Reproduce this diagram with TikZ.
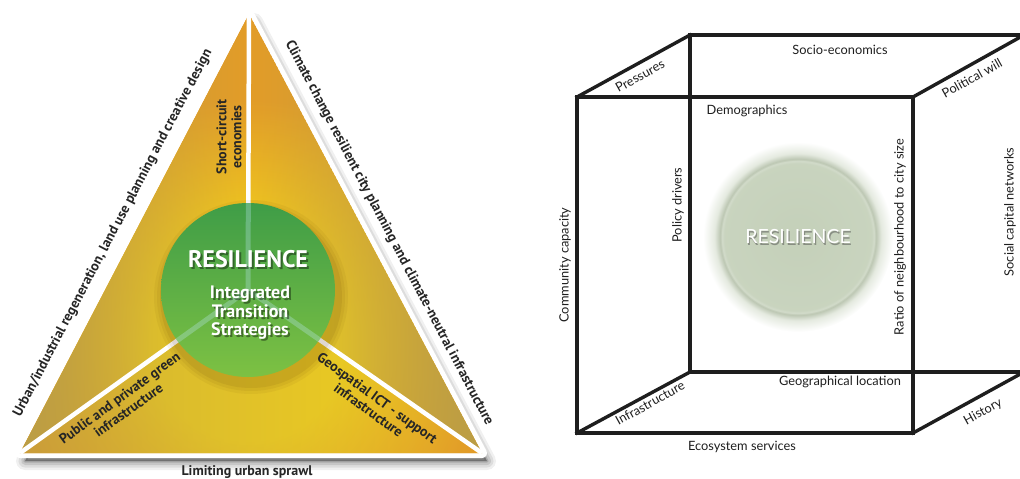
\documentclass[tikz,border=0pt]{standalone}
\usepackage{fontspec}
\setmainfont{PT Sans}
\newfontfamily\gillfont{Lato}
\usetikzlibrary{calc,fadings}

\definecolor{triyellow}{HTML}{F3D21C}
\definecolor{triorange}{HTML}{E39C28}
\definecolor{triolive}{HTML}{BA9E46}
\definecolor{orbtop}{HTML}{3F9D47}
\definecolor{orbbottom}{HTML}{7DC143}
\definecolor{sage}{HTML}{C4D0B9}
\definecolor{cubeink}{HTML}{1E1E1E}

\pgfdeclareradialshading{triglow}{\pgfpoint{0bp}{0bp}}{color(0bp)=(triyellow); color(7bp)=(triyellow); color(18bp)=(triorange); color(25bp)=(triorange); color(50bp)=(triorange)}
\pgfdeclareradialshading{orbglow}{\pgfpoint{0bp}{0bp}}{color(0bp)=(sage); color(19.4bp)=(sage!92!white); color(20bp)=(sage!75!white); color(20.5bp)=(sage!88!gray); color(22bp)=(sage!45!white); color(25bp)=(white); color(50bp)=(white)}

\tikzset{
  sidelabel/.style={font=\bfseries\fontsize{14}{15}\selectfont, text=black!85, align=center, inner sep=0pt},
  orbtitle/.style={font=\bfseries\fontsize{24}{26}\selectfont, inner sep=0pt},
  orbtext/.style={font=\bfseries\fontsize{18}{18.5}\selectfont, align=center, inner sep=0pt},
  divider/.style={white, line width=4.5pt},
  cubeedge/.style={cubeink, line width=3.4pt, line cap=rect},
  cubelabel/.style={font=\gillfont\fontsize{12.8}{14}\selectfont, text=cubeink, inner sep=0pt},
}

\begin{document}
\begin{tikzpicture}[x=1pt, y=-1pt]
\useasboundingbox (0,0) rectangle (1020,479);

% left panel: triangle
\coordinate (A) at (249,14);
\coordinate (B) at (20,453);
\coordinate (C) at (482,453);
\coordinate (O) at (248,290);

\foreach \w/\o in {18/0.06, 13/0.08, 8/0.1, 3/0.14}
  \filldraw[black, opacity=\o, line width=\w pt, line join=round]
    ([shift={(5,8)}]A) -- ([shift={(5,8)}]B) -- ([shift={(5,8)}]C) -- cycle;
\filldraw[white, line width=10pt, line join=round] (A) -- (B) -- (C) -- cycle;
\begin{scope}
  \clip (A) -- (B) -- (C) -- cycle;
  \fill[triorange] (A) -- (B) -- (C) -- cycle;
  \shade[shading=triglow] (248,345) circle (340pt);
\end{scope}
\fill[triolive, path fading=east] (A) -- (B) -- (O) -- cycle;
\fill[triolive, path fading=west] (A) -- (C) -- (O) -- cycle;
\fill[triolive, opacity=0.6, path fading=east] (B) -- (O) -- (C) -- cycle;
\draw[divider] (O) -- (A);
\draw[divider] (O) -- (B);
\draw[divider] (O) -- (C);

\foreach \r/\o in {97/0.05, 94/0.06, 91/0.08}
  \fill[black!70!orange, opacity=\o] ([shift={(3,7)}]O) circle (\r pt);
\shade[top color=orbtop, bottom color=orbbottom] (O) circle (87pt);
\begin{scope}
  \clip (O) circle (87pt);
  \draw[cyan!25!white, opacity=0.3, line width=5pt] (O) -- (A) (O) -- (B) (O) -- (C);
\end{scope}

\node[orbtitle, text=black, opacity=0.4] (res-sh) at (250,261) {RESILIENCE};
\node[orbtitle, text=white] (res) at (248,259) {RESILIENCE};
\node[orbtext, text=black, opacity=0.4] (its-sh) at (252,315) {Integrated\\Transition\\Strategies};
\node[orbtext, text=white] (its) at (250,313) {Integrated\\Transition\\Strategies};

\node[sidelabel, rotate=90] (scecon) at (229,137) {Short-circuit\\economies};
\node[sidelabel, rotate=36] (green) at (124,404) {Public and private green\\infrastructure};
\node[sidelabel, rotate=-36] (geo) at (373,404) {Geospatial ICT - support\\infrastructure};
\node[sidelabel, rotate=62.3] (urban) at (113,233)
  {Urban/industrial regeneration, land use planning and creative design};
\node[sidelabel, rotate=-62.3] (climate) at (389,233)
  {Climate change resilient city planning and climate-neutral infrastructure};
\node[sidelabel] (sprawl) at (247,472) {Limiting urban sprawl};

% right panel: cube
\coordinate (f1) at (577,97);
\coordinate (f2) at (913,97);
\coordinate (f3) at (913,433);
\coordinate (f4) at (577,433);
\coordinate (b1) at (690,35);
\coordinate (b2) at (1024,35);
\coordinate (b3) at (1024,372);
\coordinate (b4) at (690,372);

\shade[shading=orbglow] (798,237) circle (95pt);
\node[font=\gillfont\fontsize{19.5}{20}\selectfont, text=black!70, opacity=0.5, inner sep=0pt] (res2-sh) at (799.2,238.2) {RESILIENCE};
\node[font=\gillfont\fontsize{19.5}{20}\selectfont, text=white, inner sep=0pt] (res2) at (798,237) {RESILIENCE};

\draw[cubeedge] (b1) -- (b2);
\draw[cubeedge] (b4) -- (b3);
\draw[cubeedge] (b1) -- (b4);
\draw[cubeedge] (f1) -- (b1);
\draw[cubeedge] (f2) -- (b2);
\draw[cubeedge] (f4) -- (b4);
\draw[cubeedge] (f3) -- (b3);
\draw[cubeedge] (f1) -- (f2) -- (f3) -- (f4) -- cycle;

\node[cubelabel] (socio) at (840,50) {Socio-economics};
\node[cubelabel, rotate=29] (press) at (640,76) {Pressures};
\node[cubelabel, rotate=29] (polwill) at (972,78) {Political will};
\node[cubelabel] (demo) at (747,111) {Demographics};
\node[cubelabel, rotate=90] (policy) at (678,205) {Policy drivers};
\node[cubelabel, rotate=90] (commcap) at (565,265) {Community capacity};
\node[cubelabel, rotate=90] (ratio) at (900,237) {Ratio of neighbourhood to city size};
\node[cubelabel, rotate=90] (social) at (1010,212) {Social capital networks};
\node[cubelabel] (geoloc) at (840,382) {Geographical location};
\node[cubelabel, rotate=29] (infra) at (650,403) {Infrastructure};
\node[cubelabel, rotate=29] (hist) at (983,412) {History};
\node[cubelabel] (eco) at (742,447) {Ecosystem services};
\end{tikzpicture}
\end{document}
